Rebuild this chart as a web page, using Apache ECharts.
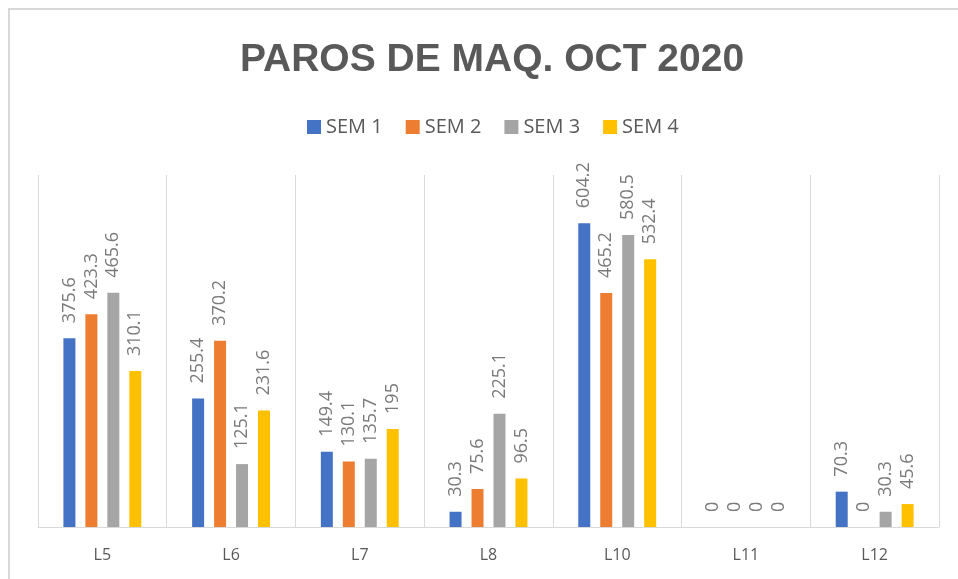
<!DOCTYPE html>
<html>
<head>
<meta charset="utf-8">
<script src="https://cdn.jsdelivr.net/npm/echarts@6/dist/echarts.min.js"></script>
<style>
html,body{margin:0;padding:0;background:#fff;}
#chart{width:958px;height:579px;}
</style>
</head>
<body>
<div id="chart"></div>
<script>
const titleText = 'PAROS DE MAQ. OCT 2020';
const categories = ['L5', 'L6', 'L7', 'L8', 'L10', 'L11', 'L12'];
const seriesNames = ['SEM 1', 'SEM 2', 'SEM 3', 'SEM 4'];
const sem1 = [375.6, 255.4, 149.4, 30.3, 604.2, 0, 70.3];
const sem2 = [423.3, 370.2, 130.1, 75.6, 465.2, 0, 0];
const sem3 = [465.6, 125.1, 135.7, 225.1, 580.5, 0, 30.3];
const sem4 = [310.1, 231.6, 195, 96.5, 532.4, 0, 45.6];
const colors = ['#4472C4', '#ED7D31', '#A5A5A5', '#FFC000'];

const FONT = '"Open Sans", "Liberation Sans", sans-serif';
const chart = echarts.init(document.getElementById('chart'));
const allData = [sem1, sem2, sem3, sem4];

const series = allData.map((d, i) => ({
  name: seriesNames[i],
  type: 'bar',
  data: d,
  barWidth: 12,
  barGap: '83%',
  itemStyle: { color: colors[i] },
  label: {
    show: true,
    position: 'top',
    distance: 15,
    rotate: 90,
    align: 'left',
    verticalAlign: 'middle',
    color: '#7a7a7a',
    fontSize: 18,
    fontFamily: FONT
  }
}));

chart.setOption({
  animation: false,
  backgroundColor: '#ffffff',
  color: colors,
  graphic: [{
    type: 'rect',
    shape: { x: 9, y: 9, width: 2000, height: 2000 },
    style: { fill: 'none', stroke: '#d9d9d9', lineWidth: 2 },
    silent: true
  }],
  title: {
    text: titleText,
    left: 487,
    top: 36,
    textAlign: 'center',
    textStyle: {
      color: '#595959',
      fontSize: 39,
      fontWeight: 'bold',
      fontFamily: '"Liberation Sans", Arial, sans-serif'
    }
  },
  legend: {
    data: seriesNames,
    left: 302,
    top: 112,
    itemWidth: 14,
    itemHeight: 14,
    itemGap: 23,
    icon: 'rect',
    textStyle: { color: '#595959', fontSize: 20, fontFamily: FONT }
  },
  grid: { left: 38, right: 19, top: 175, bottom: 52, containLabel: false },
  xAxis: {
    type: 'category',
    data: categories,
    axisTick: { show: false },
    axisLine: { lineStyle: { color: '#d9d9d9', width: 1 } },
    splitLine: { show: true, lineStyle: { color: '#d9d9d9', width: 1 } },
    axisLabel: { color: '#595959', fontSize: 16, margin: 20, fontFamily: FONT }
  },
  yAxis: {
    type: 'value',
    min: 0,
    max: 700,
    interval: 100,
    show: false,
    splitLine: { show: false }
  },
  series: series
});
</script>
</body>
</html>
